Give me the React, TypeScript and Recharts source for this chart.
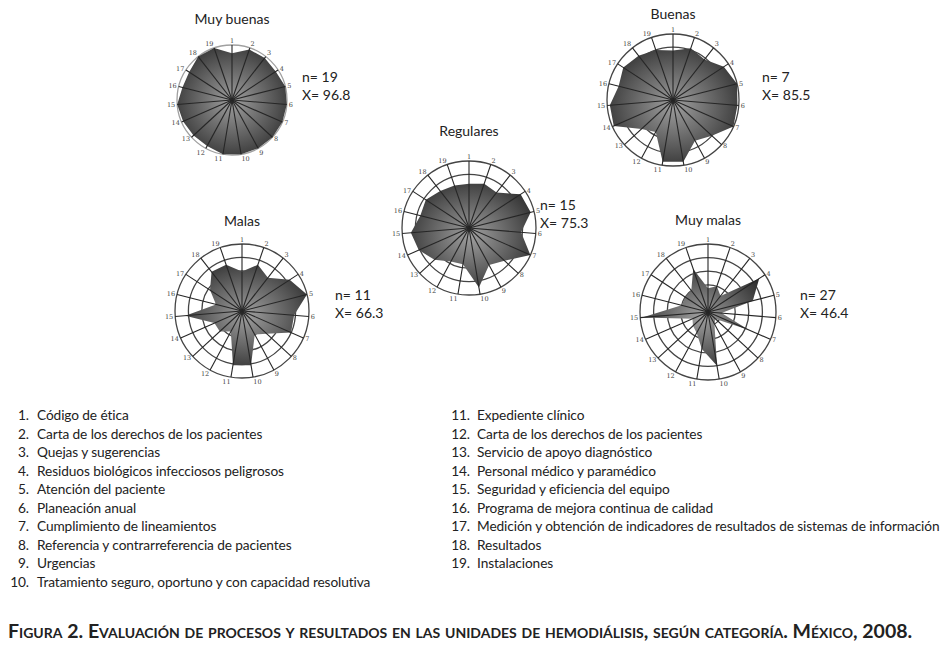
import React from 'react';
import { RadarChart, Radar, PolarGrid, PolarAngleAxis, PolarRadiusAxis } from 'recharts';

// spokes 1..19, clockwise from the top
const items = ['1', '2', '3', '4', '5', '6', '7', '8', '9', '10', '11', '12', '13', '14', '15', '16', '17', '18', '19'];

const muyBuenas = [85, 97, 97, 95, 100, 100, 100, 100, 100, 100, 100, 95, 95, 97, 100, 93, 93, 100, 100];
const buenas = [75, 83, 78, 92, 100, 98, 100, 80, 70, 95, 95, 55, 65, 98, 96, 85, 90, 85, 80];
const regulares = [66, 70, 67, 92, 95, 78, 100, 72, 63, 90, 55, 57, 70, 82, 87, 75, 77, 70, 67];
const malas = [59, 73, 63, 85, 100, 78, 80, 50, 40, 82, 82, 35, 45, 45, 85, 40, 57, 74, 73];
const muyMalas = [35, 40, 30, 90, 68, 20, 65, 15, 20, 80, 55, 35, 30, 25, 97, 40, 40, 40, 67];

const legendLeft = [
  'Código de ética',
  'Carta de los derechos de los pacientes',
  'Quejas y sugerencias',
  'Residuos biológicos infecciosos peligrosos',
  'Atención del paciente',
  'Planeación anual',
  'Cumplimiento de lineamientos',
  'Referencia y contrarreferencia de pacientes',
  'Urgencias',
  'Tratamiento seguro, oportuno y con capacidad resolutiva',
];
const legendRight = [
  'Expediente clínico',
  'Carta de los derechos de los pacientes',
  'Servicio de apoyo diagnóstico',
  'Personal médico y paramédico',
  'Seguridad y eficiencia del equipo',
  'Programa de mejora continua de calidad',
  'Medición y obtención de indicadores de resultados de sistemas de información',
  'Resultados',
  'Instalaciones',
];

const sans = 'Lato, "Open Sans", sans-serif';

const panels = [
  { id: 'mb', title: 'Muy buenas', n: '19', mean: '96.8', values: muyBuenas, cx: 232, cy: 100, r: 55, titleY: 19, noteX: 302, noteY: 77, grid: '#a0a0a0' },
  { id: 'b', title: 'Buenas', n: '7', mean: '85.5', values: buenas, cx: 673, cy: 100, r: 66, titleY: 14, noteX: 762, noteY: 77, grid: '#444' },
  { id: 'r', title: 'Regulares', n: '15', mean: '75.3', values: regulares, cx: 469, cy: 228, r: 67, titleY: 131, noteX: 540, noteY: 205, grid: '#444' },
  { id: 'm', title: 'Malas', n: '11', mean: '66.3', values: malas, cx: 242, cy: 311, r: 67, titleY: 221, noteX: 335, noteY: 295, grid: '#444' },
  { id: 'mm', title: 'Muy malas', n: '27', mean: '46.4', values: muyMalas, cx: 708, cy: 312, r: 68, titleY: 220, noteX: 800, noteY: 295, grid: '#444' },
];

const SIZE = 190;
const RAD = Math.PI / 180;

// filled polygon plus the dark spokes drawn over it
const spokeShape = (outer: number) => (props: any) => {
  const { points, fill } = props;
  if (!points || !points.length) return null;
  const d = points.map((pt: any, i: number) => `${i ? 'L' : 'M'}${pt.x},${pt.y}`).join('') + 'Z';
  return (
    <g>
      <path d={d} fill={fill} stroke="none" />
      {points.map((pt: any, i: number) => (
        <line
          key={i}
          x1={pt.cx}
          y1={pt.cy}
          x2={pt.cx + Math.cos(-pt.angle * RAD) * outer}
          y2={pt.cy + Math.sin(-pt.angle * RAD) * outer}
          stroke="#262626"
          strokeWidth={1.1}
        />
      ))}
    </g>
  );
};

function Panel({ p }: { p: (typeof panels)[number] }) {
  const data = items.map((item, i) => ({ item, value: p.values[i] }));
  return (
    <>
      <div style={{ position: 'absolute', left: p.cx - 100, top: p.titleY - 10, width: 200, textAlign: 'center', fontFamily: sans, fontSize: 14, lineHeight: '20px', color: '#222' }}>
        {p.title}
      </div>
      <div style={{ position: 'absolute', left: p.cx - SIZE / 2, top: p.cy - SIZE / 2 }}>
        <RadarChart width={SIZE} height={SIZE} data={data} outerRadius={p.r} margin={{ top: 0, right: 0, bottom: 0, left: 0 }}>
          <defs>
            <radialGradient id={`fill-${p.id}`} cx="50%" cy="50%" r="60%">
              <stop offset="0%" stopColor="#a0a0a0" />
              <stop offset="100%" stopColor="#2f2f2f" />
            </radialGradient>
          </defs>
          <PolarGrid gridType="circle" radialLines={false} stroke={p.grid} strokeWidth={1.3} strokeOpacity={1} />
          <PolarRadiusAxis domain={[0, 100]} tickCount={6} tick={false} axisLine={false} />
          <PolarAngleAxis
            dataKey="item"
            tick={{ fontSize: 6.5, fill: '#444', fontFamily: '"DejaVu Serif", serif' }}
            tickLine={false}
            axisLine={false}
            tickSize={2}
          />
          <Radar
            dataKey="value"
            fill={`url(#fill-${p.id})`}
            fillOpacity={1}
            stroke="none"
            shape={spokeShape(p.r)}
            isAnimationActive={false}
          />
        </RadarChart>
      </div>
      <div style={{ position: 'absolute', left: p.noteX, top: p.noteY - 9, fontFamily: sans, fontSize: 14, lineHeight: '18px', color: '#222' }}>
        <div>n= {p.n}</div>
        <div>X= {p.mean}</div>
      </div>
    </>
  );
}

function LegendColumn({ list, start, numRight, textLeft }: { list: string[]; start: number; numRight: number; textLeft: number }) {
  return (
    <>
      {list.map((label, i) => (
        <div key={label + i} style={{ position: 'absolute', top: 406 + i * 18.5, left: 0, fontFamily: sans, fontSize: 13.7, letterSpacing: -0.1, lineHeight: '18px', color: '#222' }}>
          <span style={{ position: 'absolute', left: numRight - 40, width: 40, textAlign: 'right' }}>{start + i}.</span>
          <span style={{ position: 'absolute', left: textLeft, whiteSpace: 'nowrap' }}>{label}</span>
        </div>
      ))}
    </>
  );
}

export default function App() {
  return (
    <div style={{ position: 'absolute', left: 0, top: 0, width: 943, height: 647, background: '#fff', overflow: 'hidden' }}>
      {panels.map((p) => (
        <Panel key={p.id} p={p} />
      ))}
      <LegendColumn list={legendLeft} start={1} numRight={29} textLeft={37} />
      <LegendColumn list={legendRight} start={11} numRight={470} textLeft={477} />
      <div style={{ position: 'absolute', left: 8, top: 619, fontFamily: sans, fontSize: 19.5, fontWeight: 700, fontVariant: 'small-caps', color: '#222', whiteSpace: 'nowrap', lineHeight: '24px' }}>
        Figura 2. Evaluación de procesos y resultados en las unidades de hemodiálisis, según categoría. México, 2008.
      </div>
    </div>
  );
}
